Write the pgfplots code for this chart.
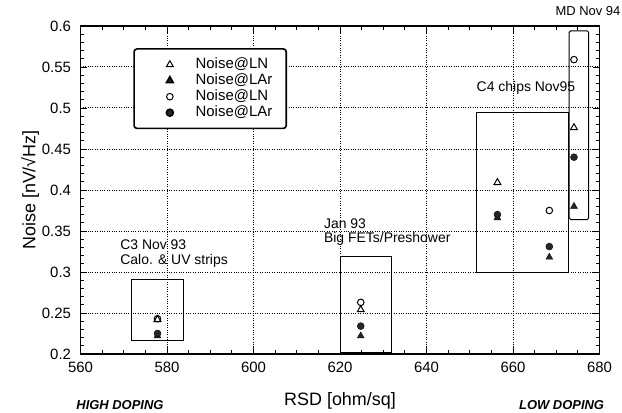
\documentclass[border=0pt]{standalone}
\usepackage{pgfplots}
\pgfplotsset{compat=1.18}
\usepackage{fontspec}
\setmainfont{Liberation Sans}
\begin{document}
\begin{tikzpicture}[x=1bp,y=1bp]
\begin{axis}[
    name=ax,
    scale only axis,
    width=519bp, height=328bp,
    xmin=560, xmax=680, ymin=0.2, ymax=0.6,
    xtick={560,580,...,680},
    ytick={0.2,0.25,...,0.6},
    yticklabels={0.2,0.25,0.3,0.35,0.4,0.45,0.5,0.55,0.6},
    minor x tick num=3,
    minor y tick num=4,
    tick align=inside,
    major tick length=7bp, minor tick length=4bp,
    every tick/.style={black, line width=0.8pt},
    axis line style={line width=1.2pt},
    grid=major,
    grid style={dotted, black, line width=1pt},
    /pgf/number format/assume math mode=true,
    tick label style={font=\fontsize{15}{16}\selectfont},
    xticklabel style={yshift=-5bp},
    yticklabel style={xshift=-6bp},
    xlabel={RSD [ohm/sq]},
    ylabel={Noise [nV/√Hz]},
    label style={font=\fontsize{18}{20}\selectfont},
    xlabel style={at={(rel axis cs:0.5,0)}, anchor=base, yshift=-51bp},
    ylabel style={yshift=-4bp},
    clip=false,
    legend cell align=left,
    legend image code/.code={\path (0bp,0bp) (46bp,0bp);
        \draw[#1] plot coordinates {(23bp,0bp)};},
    legend style={at={(axis cs:572.2,0.573)}, anchor=north west,
        draw=black, line width=1.6pt, rounded corners=3pt,
        font=\fontsize{15}{15}\selectfont,
        nodes={inner ysep=0.5bp, text height=10.5bp, text depth=2bp},
        row sep=2.5bp, inner xsep=12bp, inner ysep=9bp},
]
% Noise@LN (triangles)
\addplot[only marks, mark=triangle, mark size=4pt, line width=1pt, black]
    coordinates {(577.8,0.242)(624.8,0.254)(656.4,0.409)(674.1,0.476)};
\addlegendentry{Noise@LN}
% Noise@LAr (triangles)
\addplot[only marks, mark=triangle*, mark size=4pt, black, fill=black!85]
    coordinates {(577.8,0.222)(624.8,0.222)(656.4,0.366)(668.4,0.318)(674.1,0.380)};
\addlegendentry{Noise@LAr}
% Noise@LN (circles)
\addplot[only marks, mark=o, mark size=3.3pt, line width=1pt, black]
    coordinates {(577.8,0.243)(624.8,0.263)(668.4,0.375)(674.1,0.559)};
\addlegendentry{Noise@LN}
% Noise@LAr (circles)
\addplot[only marks, mark=*, mark size=3.5pt, black, fill=black!85]
    coordinates {(577.8,0.225)(624.8,0.234)(656.4,0.370)(668.4,0.331)(674.1,0.440)};
\addlegendentry{Noise@LAr}

% measurement boxes
\draw[line width=1pt] (axis cs:571.8,0.216) rectangle (axis cs:583.8,0.291);
\draw[line width=1pt] (axis cs:620.0,0.202) rectangle (axis cs:632.0,0.319);
\draw[line width=1pt] (axis cs:651.5,0.300) rectangle (axis cs:672.8,0.494);
\draw[line width=1pt, rounded corners=1.5pt] (axis cs:673.0,0.364) rectangle (axis cs:677.5,0.594);

\node[anchor=base west, font=\fontsize{14}{15}\selectfont]
    at (axis cs:568.4,0.327) {C3 Nov 93};
\node[anchor=base west, font=\fontsize{14}{15}\selectfont]
    at (axis cs:568.4,0.309) {Calo. \& UV strips};
\node[anchor=base west, font=\fontsize{14}{15}\selectfont]
    at (axis cs:615.5,0.353) {Jan 93};
\node[anchor=base west, font=\fontsize{14}{15}\selectfont]
    at (axis cs:615.5,0.336) {Big FETs/Preshower};
\node[anchor=base, font=\fontsize{14}{15}\selectfont]
    at (axis cs:663.0,0.520) {C4 chips Nov95};
\node[anchor=base east, font=\fontsize{13}{14}\selectfont, inner xsep=1bp]
    at (rel axis cs:1,1) [xshift=22bp, yshift=10bp] {MD Nov 94};

\node[anchor=base, font=\fontsize{13}{14}\selectfont\bfseries\itshape]
    at (rel axis cs:0.076,0) [yshift=-55bp] {HIGH DOPING};
\node[anchor=base, font=\fontsize{13}{14}\selectfont\bfseries\itshape]
    at (rel axis cs:0.927,0) [yshift=-55bp] {LOW DOPING};
\end{axis}
\pgfresetboundingbox
\path (ax.south west) ++(-80.5bp,-59bp) rectangle ++(622bp,413bp);
\end{tikzpicture}
\end{document}
